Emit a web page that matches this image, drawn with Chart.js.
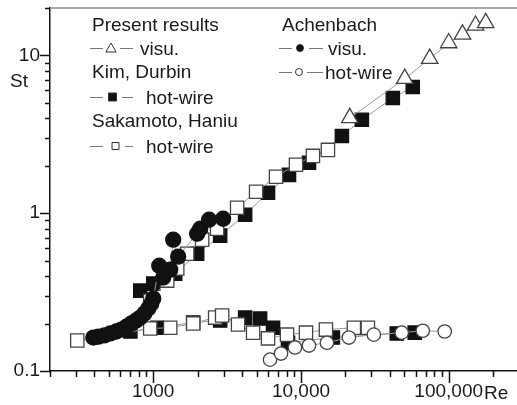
<!DOCTYPE html>
<html>
<head>
<meta charset="utf-8">
<script src="https://cdn.jsdelivr.net/npm/chart.js@4.4.0/dist/chart.umd.min.js"></script>
<style>
  html, body { margin: 0; padding: 0; background: #fff; }
</style>
</head>
<body>
<canvas id="myChart" width="517" height="405"></canvas>
<script>
// values (Re, St)
const presentVisuRe = [21400, 50400, 74400, 100000, 124000, 152000, 178000];
const presentVisuSt = [4.02, 7.13, 9.55, 12.0, 13.6, 15.5, 16.1];

const kimUpperRe = [817, 1000, 1408, 1983, 2837, 4188, 5984, 8297, 11330, 18920, 25830, 41850, 57100];
const kimUpperSt = [0.323, 0.358, 0.414, 0.554, 0.721, 0.978, 1.349, 1.75, 2.09, 3.09, 3.91, 5.38, 6.32];
const kimLowerRe = [700, 1064, 1864, 2837, 4188, 5287, 6473, 8168, 16440, 44530, 58930];
const kimLowerSt = [0.178, 0.188, 0.203, 0.209, 0.218, 0.215, 0.188, 0.151, 0.163, 0.173, 0.175];

const sakUpperRe = [954, 1243, 1453, 1698, 2143, 2706, 3697, 4968, 6776, 9250, 12050, 15220];
const sakUpperSt = [0.279, 0.374, 0.446, 0.554, 0.680, 0.798, 1.083, 1.368, 1.702, 2.03, 2.31, 2.52];
const sakLowerRe = [306, 954, 1303, 1864, 2624, 2926, 3750, 4742, 5984, 8042, 10810, 14750, 22800, 28380];
const sakLowerSt = [0.156, 0.186, 0.188, 0.200, 0.218, 0.225, 0.197, 0.175, 0.161, 0.170, 0.175, 0.183, 0.188, 0.188];

const achVisuRe = [393, 425, 467, 512, 562, 608, 658, 710, 767, 817, 869, 925, 969, 1000, 1098, 1168, 1303, 1365, 1475, 1983, 2080, 2389, 2972];
const achVisuSt = [0.163, 0.165, 0.168, 0.173, 0.178, 0.183, 0.191, 0.200, 0.209, 0.218, 0.231, 0.249, 0.267, 0.288, 0.465, 0.391, 0.439, 0.680, 0.531, 0.742, 0.798, 0.910, 0.923];
const achHotRe = [6176, 7328, 9105, 11330, 14990, 21110, 31130, 48110, 66730, 93950];
const achHotSt = [0.118, 0.129, 0.141, 0.145, 0.151, 0.163, 0.170, 0.175, 0.180, 0.178];

// axis ticks
const xTicks = [200, 300, 400, 500, 600, 700, 800, 900,
  1000, 2000, 3000, 4000, 5000, 6000, 7000, 8000, 9000,
  10000, 20000, 30000, 40000, 50000, 60000, 70000, 80000, 90000,
  100000, 200000];
const xLabelValues = [1000, 10000, 100000];
const xLabels = ['1000', '10,000', '100,000'];
const yTicks = [0.1, 0.2, 0.3, 0.4, 0.5, 0.6, 0.7, 0.8, 0.9,
  1, 2, 3, 4, 5, 6, 7, 8, 9, 10, 20];
const yLabelValues = [0.1, 1, 10];
const yLabels = ['0.1', '1', '10'];

const FONT = 'Liberation Sans, Arial, Helvetica, sans-serif';
const TXT = '#1a1a1a';
const LINE = '#9a9a9a';
const EDGE = '#333';

function pts(xs, ys) {
  return xs.map((x, i) => ({ x: x, y: ys[i] }));
}

function series(label, xs, ys, style, fill, radius, order) {
  return {
    label: label,
    data: pts(xs, ys),
    showLine: true,
    borderColor: LINE,
    borderWidth: 1,
    pointStyle: style,
    pointRadius: radius,
    pointHoverRadius: radius,
    pointBackgroundColor: fill,
    pointBorderColor: fill === '#fff' ? '#444' : '#111',
    pointBorderWidth: 1.3,
    order: order
  };
}

// tick marks, frame line, St / Re and the grouped legend
const decorPlugin = {
  id: 'decor',
  afterDraw(chart) {
    const ctx = chart.ctx;
    const a = chart.chartArea;
    const xs = chart.scales.x;
    const ys = chart.scales.y;
    ctx.save();

    // top frame line
    ctx.strokeStyle = '#8a8a8a';
    ctx.lineWidth = 1.5;
    ctx.beginPath();
    ctx.moveTo(a.left, a.top);
    ctx.lineTo(a.right, a.top);
    ctx.stroke();

    // tick marks
    ctx.strokeStyle = '#111';
    ctx.lineWidth = 1.5;
    xTicks.forEach(v => {
      const px = Math.round(xs.getPixelForValue(v)) + 0.5;
      const len = xLabelValues.includes(v) ? 12 : 6;
      ctx.beginPath();
      ctx.moveTo(px, a.bottom);
      ctx.lineTo(px, a.bottom + len);
      ctx.stroke();
    });
    yTicks.forEach(v => {
      const py = Math.round(ys.getPixelForValue(v)) + 0.5;
      const len = yLabelValues.includes(v) ? 10 : 5;
      ctx.beginPath();
      ctx.moveTo(a.left - len, py);
      ctx.lineTo(a.left, py);
      ctx.stroke();
    });

    // axis names
    ctx.fillStyle = TXT;
    ctx.font = '19px ' + FONT;
    ctx.textBaseline = 'alphabetic';
    ctx.textAlign = 'left';
    ctx.fillText('St', 10, 87);
    ctx.fillText('Re', 484, 399);

    // legend headers
    ctx.fillText('Present results', 92, 31);
    ctx.fillText('Kim, Durbin', 92, 78);
    ctx.fillText('Sakamoto, Haniu', 92, 127);
    ctx.fillText('Achenbach', 282, 31);

    // legend rows
    ctx.fillText('visu.', 140, 55);
    ctx.fillText('hot-wire', 146, 104);
    ctx.fillText('hot-wire', 146, 153);
    ctx.fillText('visu.', 328, 55);
    ctx.fillText('hot-wire', 325, 79);

    function dash(x1, x2, y) {
      ctx.strokeStyle = '#777';
      ctx.lineWidth = 1;
      ctx.beginPath();
      ctx.moveTo(x1, y + 0.5);
      ctx.lineTo(x2, y + 0.5);
      ctx.stroke();
    }
    function mark(style, x, y, r, fill) {
      ctx.fillStyle = fill;
      ctx.strokeStyle = EDGE;
      ctx.lineWidth = 1;
      ctx.beginPath();
      if (style === 'triangle') {
        ctx.moveTo(x, y - r);
        ctx.lineTo(x + r * 0.866, y + r / 2);
        ctx.lineTo(x - r * 0.866, y + r / 2);
        ctx.closePath();
      } else if (style === 'rect') {
        ctx.rect(x - r, y - r, 2 * r, 2 * r);
      } else {
        ctx.arc(x, y, r, 0, Math.PI * 2);
      }
      ctx.fill();
      ctx.stroke();
    }
    dash(90, 103, 48); dash(120, 133, 48); mark('triangle', 111, 49, 6, '#fff');
    dash(90, 103, 97); dash(122, 133, 97); mark('rect', 112.5, 97, 4, '#111');
    dash(90, 103, 146); dash(125, 133, 146); mark('rect', 115.5, 146, 3.5, '#fff');
    dash(279, 292, 48); dash(309, 323, 48); mark('circle', 300, 48, 3.5, '#111');
    dash(279, 292, 72); dash(307, 323, 72); mark('circle', 299, 72, 3.5, '#fff');

    ctx.restore();
  }
};

// invisible grid ticks only to push the labels off the axis line
const hiddenTicks = (len) => ({
  display: true,
  drawOnChartArea: false,
  drawTicks: true,
  tickLength: len,
  tickColor: 'rgba(0,0,0,0)'
});

const ctx = document.getElementById('myChart').getContext('2d');
const myChart = new Chart(ctx, {
  type: 'scatter',
  data: {
    datasets: [
      series('Kim, Durbin hot-wire', kimUpperRe, kimUpperSt, 'rect', '#111', 9.4, 6),
      series('Kim, Durbin hot-wire', kimLowerRe, kimLowerSt, 'rect', '#111', 9.4, 6),
      series('Sakamoto, Haniu hot-wire', sakUpperRe, sakUpperSt, 'rect', '#fff', 9.4, 5),
      series('Sakamoto, Haniu hot-wire', sakLowerRe, sakLowerSt, 'rect', '#fff', 9.4, 5),
      series('Achenbach hot-wire', achHotRe, achHotSt, 'circle', '#fff', 6.7, 4),
      series('Present results visu.', presentVisuRe, presentVisuSt, 'triangle', '#fff', 9.5, 3),
      series('Achenbach visu.', achVisuRe, achVisuSt, 'circle', '#111', 7.5, 2)
    ]
  },
  options: {
    responsive: false,
    animation: false,
    layout: { autoPadding: false, padding: { top: 8, right: 0, left: 0, bottom: 0 } },
    plugins: {
      legend: { display: false },
      tooltip: { enabled: false }
    },
    scales: {
      x: {
        type: 'logarithmic',
        min: 200,
        max: 290000,
        afterFit(scale) {
          scale.height = 34;
          scale.paddingLeft = 0;
          scale.paddingRight = 0;
        },
        afterBuildTicks(scale) { scale.ticks = xTicks.map(v => ({ value: v })); },
        grid: hiddenTicks(9),
        border: { display: true, color: '#111', width: 1.5 },
        ticks: {
          autoSkip: false,
          maxRotation: 0,
          padding: 0,
          color: TXT,
          font: { family: FONT, size: 19 },
          callback(v) {
            const i = xLabelValues.indexOf(v);
            return i >= 0 ? xLabels[i] : null;
          }
        }
      },
      y: {
        type: 'logarithmic',
        min: 0.1,
        max: 20,
        afterFit(scale) {
          scale.width = 50;
          scale.paddingTop = 0;
          scale.paddingBottom = 0;
        },
        afterBuildTicks(scale) { scale.ticks = yTicks.map(v => ({ value: v })); },
        grid: hiddenTicks(10),
        border: { display: true, color: '#111', width: 1.5 },
        ticks: {
          autoSkip: false,
          padding: 0,
          color: TXT,
          font: { family: FONT, size: 19 },
          callback(v) {
            const i = yLabelValues.indexOf(v);
            return i >= 0 ? yLabels[i] : null;
          }
        }
      }
    }
  },
  plugins: [decorPlugin]
});
</script>
</body>
</html>
